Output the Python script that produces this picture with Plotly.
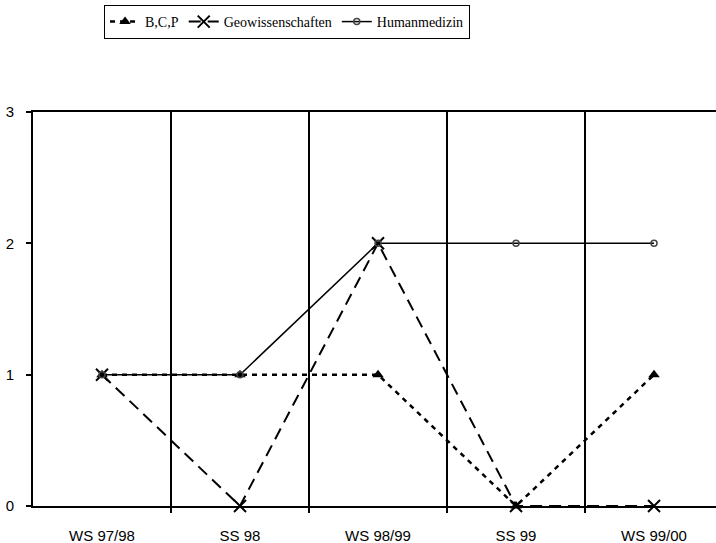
import plotly.graph_objects as go

categories = ["WS 97/98", "SS 98", "WS 98/99", "SS 99", "WS 99/00"]
bcp = [1, 1, 1, 0, 1]
geo = [1, 0, 2, 0, 0]
human = [1, 1, 2, 2, 2]
boundaries = [i + 0.5 for i in range(len(categories) - 1)]

fig = go.Figure()
fig.add_trace(go.Scatter(
    x=categories, y=bcp, name="B,C,P", mode="lines+markers", cliponaxis=False,
    line=dict(color="black", width=2.5, dash="5px,5px"),
    marker=dict(symbol="triangle-up", size=10, color="black"),
))
fig.add_trace(go.Scatter(
    x=categories, y=geo, name="Geowissenschaften", mode="lines+markers", cliponaxis=False,
    line=dict(color="black", width=2, dash="12px,7px"),
    marker=dict(symbol="x-thin-open", size=12, color="black", line=dict(width=2, color="black")),
))
fig.add_trace(go.Scatter(
    x=categories, y=human, name="Humanmedizin", mode="lines+markers", cliponaxis=False,
    line=dict(color="black", width=1.5),
    marker=dict(symbol="circle-open", size=6, color="#444", line=dict(width=1.5, color="#444")),
))

xr = [-0.5, 4.449]
fig.update_layout(
    width=716, height=543,
    margin=dict(l=33, r=0, t=112, b=37, autoexpand=False),
    paper_bgcolor="white", plot_bgcolor="white",
    font=dict(family="Liberation Sans, Arial", size=15, color="black"),
    legend=dict(
        orientation="h", x=0.104, y=1.2716, xanchor="left", yanchor="top",
        font=dict(family="Liberation Serif, Times New Roman", size=14, color="black"),
        bordercolor="black", borderwidth=1, bgcolor="white",
        itemwidth=30, tracegroupgap=0,
    ),
    showlegend=True,
    xaxis=dict(
        type="category", range=xr, showgrid=False,
        showline=True, linecolor="black", linewidth=2, mirror=True,
        ticks="", ticklabelstandoff=15,
        zeroline=False, fixedrange=True, automargin=False,
    ),
    xaxis2=dict(
        overlaying="x", side="bottom", anchor="y", type="linear", range=xr,
        tickvals=boundaries, showticklabels=False,
        showgrid=True, gridcolor="black", gridwidth=2,
        ticks="outside", ticklen=6, tickcolor="black", tickwidth=2,
        showline=False, zeroline=False, fixedrange=True, automargin=False,
    ),
    yaxis=dict(
        range=[0, 3], tickvals=[0, 1, 2, 3], showgrid=False,
        showline=True, linecolor="black", linewidth=2, mirror=False,
        ticks="outside", ticklen=5, tickcolor="black", tickwidth=2,
        ticklabelstandoff=9,
        zeroline=False, fixedrange=True, automargin=False,
    ),
)
# invisible trace to activate the boundary axis
fig.add_trace(go.Scatter(x=[xr[0]], y=[None], xaxis="x2", showlegend=False, hoverinfo="skip"))

fig.write_html(
    "out.html",
    config={"displayModeBar": False, "staticPlot": True},
    post_script="document.body.style.margin='0';document.body.style.overflow='hidden';",
)
